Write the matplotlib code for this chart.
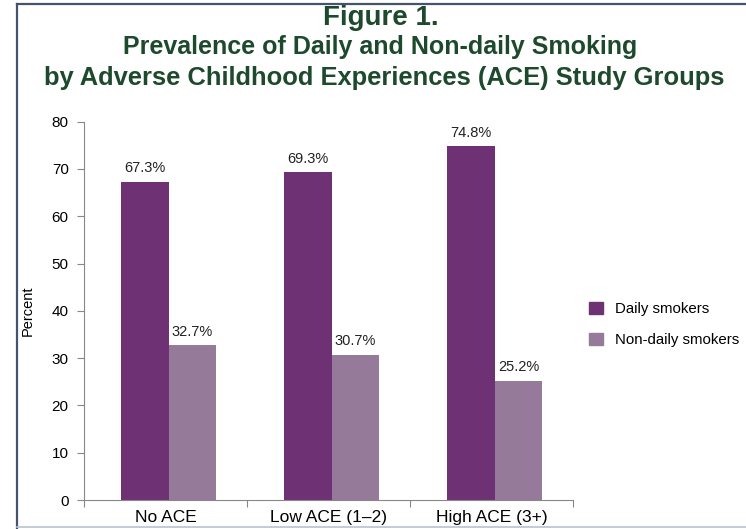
import numpy as np
import matplotlib
matplotlib.use('Agg')
import matplotlib.pyplot as plt
from matplotlib.lines import Line2D

plt.rcParams['font.family'] = ['Liberation Sans', 'DejaVu Sans']

GROUPS = ['No ACE', 'Low ACE (1\u20132)', 'High ACE (3+)']
DAILY = [67.3, 69.3, 74.8]
NON_DAILY = [32.7, 30.7, 25.2]
SERIES = ['Daily smokers', 'Non-daily smokers']
COLORS = ['#6e3173', '#967a99']
TITLE_COLOR = '#1d4a2c'

fig = plt.figure(figsize=(7.46, 5.29), dpi=100)
ax = fig.add_axes([0.1126, 0.0548, 0.6555, 0.7152])

x = np.arange(len(GROUPS))
width = 0.29
off = 0.02
b1 = ax.bar(x + off - width / 2, DAILY, width, color=COLORS[0], label=SERIES[0])
b2 = ax.bar(x + off + width / 2, NON_DAILY, width, color=COLORS[1], label=SERIES[1])
for bars, vals in ((b1, DAILY), (b2, NON_DAILY)):
	for bar, v in zip(bars, vals):
		ax.text(bar.get_x() + bar.get_width() / 2, v + 1.4, '%.1f%%' % v,
			ha='center', va='bottom', fontsize=10.5, color='#222222')

ax.set_xlim(-0.5, 2.5)
ax.set_ylim(0, 80)
ax.set_yticks(range(0, 81, 10))
ax.set_xticks([-0.5, 0.5, 1.5, 2.5])
ax.set_xticklabels([])
ax.set_xticks(x, minor=True)
ax.set_xticklabels(GROUPS, minor=True, fontsize=12.5)
ax.tick_params(axis='x', which='minor', length=0, pad=7)
ax.tick_params(axis='x', which='major', length=5, color='#888888', direction='out')
ax.tick_params(axis='y', length=5, color='#888888', labelsize=11, pad=6)
for s in ('top', 'right'):
	ax.spines[s].set_visible(False)
for s in ('left', 'bottom'):
	ax.spines[s].set_color('#888888')
ax.set_ylabel('Percent', fontsize=10.5, labelpad=12)

handles = [plt.Rectangle((0, 0), 1, 1, color=c) for c in COLORS]
fig.legend(handles, SERIES, loc='upper left', bbox_to_anchor=(0.772, 0.455),
	frameon=False, fontsize=10.8, handlelength=0.9, handleheight=0.9,
	labelspacing=1.1, handletextpad=0.8)

fig.text(0.51, 0.966, 'Figure 1.', ha='center', va='center', fontsize=20,
	fontweight='bold', color=TITLE_COLOR)
fig.text(0.51, 0.912, 'Prevalence of Daily and Non-daily Smoking', ha='center',
	va='center', fontsize=18, fontweight='bold', color=TITLE_COLOR)
fig.text(0.515, 0.852, 'by Adverse Childhood Experiences (ACE) Study Groups',
	ha='center', va='center', fontsize=18.4, fontweight='bold', color=TITLE_COLOR)

# screenshot frame
fig.add_artist(Line2D([0.023, 0.023], [0.0, 0.992], transform=fig.transFigure,
	color='#44546f', lw=1.6))
fig.add_artist(Line2D([0.023, 1.0], [0.992, 0.992], transform=fig.transFigure,
	color='#44546f', lw=1.6))
fig.add_artist(Line2D([0.023, 1.0], [0.004, 0.004], transform=fig.transFigure,
	color='#b8c2d0', lw=1.2))

fig.savefig('out.png', dpi=100)
